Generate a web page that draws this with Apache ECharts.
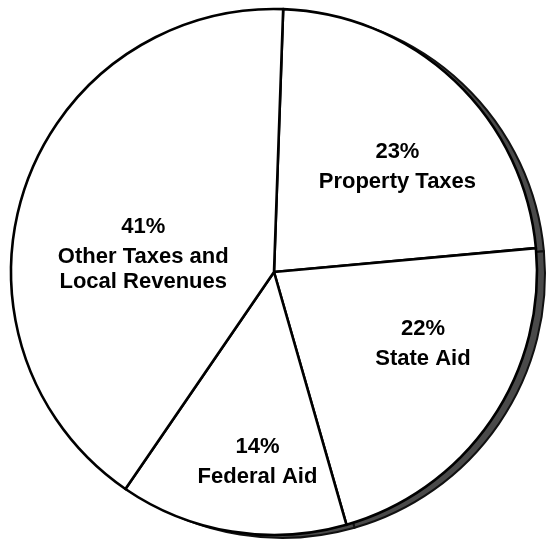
<!DOCTYPE html>
<html>
<head>
<meta charset="utf-8">
<script src="https://cdn.jsdelivr.net/npm/echarts@6/dist/echarts.min.js"></script>
<style>
  html, body { margin: 0; padding: 0; background: #ffffff; }
  #chart { width: 549px; height: 540px; }
</style>
</head>
<body>
<div id="chart"></div>
<script>
// ---- data ----
const categories = ['Property Taxes', 'State Aid', 'Federal Aid', 'Other Taxes and\nLocal Revenues'];
const shares = [23, 22, 14, 41];

// ---- label nudges (style only, px) ----
const labelNudge = [[31, -10], [38, -7], [5, 55], [-3, 22]];

const pieData = categories.map((c, i) => ({ name: c, value: shares[i] }));

const chart = echarts.init(document.getElementById('chart'), null, { renderer: 'canvas' });

const common = {
  type: 'pie',
  radius: [0, 263],
  startAngle: 88,
  clockwise: true,
  avoidLabelOverlap: false,
  silent: true,
  animation: false,
  emphasis: { disabled: true },
  data: pieData
};

const fontBase = { fontFamily: 'Liberation Sans', fontWeight: 'bold', fontSize: 22, color: '#000', align: 'center' };

chart.setOption({
  backgroundColor: '#ffffff',
  animation: false,
  series: [
    Object.assign({}, common, {
      name: 'shadow',
      z: 1,
      center: [282, 275],
      label: { show: false },
      labelLine: { show: false },
      itemStyle: { color: '#4a4a4a', borderColor: '#111111', borderWidth: 2 }
    }),
    Object.assign({}, common, {
      name: 'revenue',
      z: 2,
      center: [274, 272],
      itemStyle: { color: '#ffffff', borderColor: '#000000', borderWidth: 2.6 },
      label: {
        show: true,
        position: 'inside',
        formatter: p => '{p|' + p.value + '%}\n{n|' + p.name.split('\n').join('}\n{n|') + '}',
        rich: {
          p: Object.assign({}, fontBase, { lineHeight: 35 }),
          n: Object.assign({}, fontBase, { lineHeight: 25 })
        }
      },
      labelLine: { show: false },
      labelLayout: function (params) {
        const d = labelNudge[params.dataIndex] || [0, 0];
        return { dx: d[0], dy: d[1] };
      }
    })
  ]
});
</script>
</body>
</html>
